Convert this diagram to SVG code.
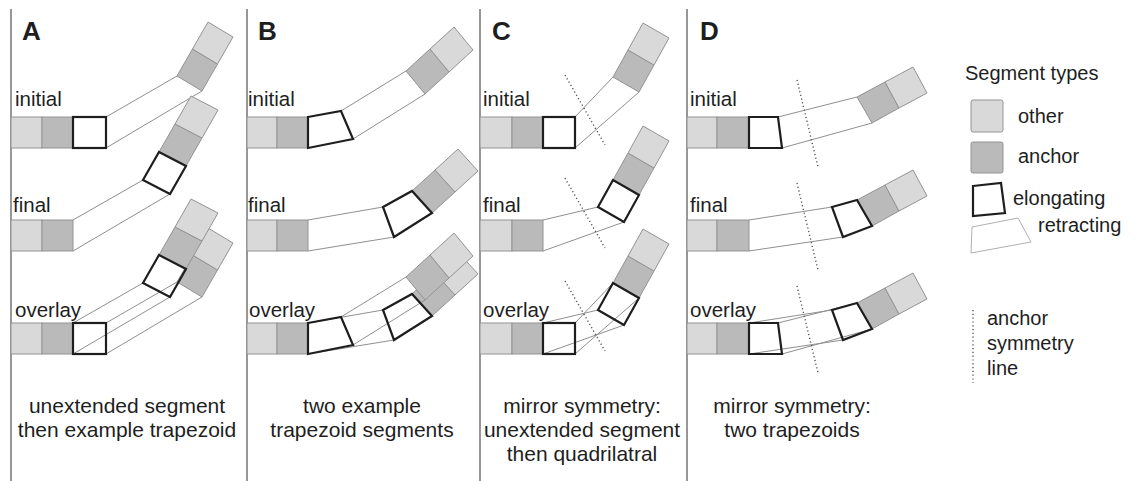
<svg xmlns="http://www.w3.org/2000/svg" width="1138" height="481" viewBox="0 0 1138 481">
  <style>
    text { font-family: "Liberation Sans", Arial, sans-serif; fill: #1e1e1e; }
    .ttl { font-size: 26px; font-weight: bold; }
    .row { font-size: 20.5px; }
    .cap { font-size: 21px; text-anchor: middle; }
    .leg { font-size: 20px; }
    .oth { fill: #d9d9d9; stroke: #939393; stroke-width: 1; }
    .anc { fill: #bababa; stroke: #939393; stroke-width: 1; }
    .elo { fill: none; stroke: #1e1e1e; stroke-width: 2.2; stroke-linejoin: miter; }
    .ret { fill: none; stroke: #8f8f8f; stroke-width: 1; }
    .sym { fill: none; stroke: #555; stroke-width: 1.4; stroke-dasharray: 1.2 2.6; }
    .div { stroke: #7d7d7d; stroke-width: 1.6; }
  </style>

  <!-- panel dividers -->
  <g id="dividers">
    <line class="div" x1="11" y1="9" x2="11" y2="481"/>
    <line class="div" x1="247" y1="9" x2="247" y2="481"/>
    <line class="div" x1="480" y1="9" x2="480" y2="481"/>
    <line class="div" x1="687" y1="9" x2="687" y2="481"/>
  </g>

  <!-- Panel A: unextended segment then trapezoid -->
  <g id="panelA">
    <text class="ttl" x="22" y="40">A</text>
    <text class="row" x="15" y="106">initial</text>
    <text class="row" x="13" y="212">final</text>
    <text class="row" x="15" y="317">overlay</text>
    <g id="A-initial">
      <rect class="oth" x="11" y="117" width="31" height="31"/>
      <rect class="anc" x="42" y="117" width="31" height="31"/>
      <polygon class="anc" points="177,76 202,91 217.5,64 192.5,49"/>
      <polygon class="oth" points="192.5,49 217.5,64 233,37 208,22"/>
      <line class="ret" x1="106" y1="117" x2="177" y2="76"/>
      <line class="ret" x1="106" y1="148" x2="202" y2="91"/>
      <rect class="elo" x="73" y="117" width="33" height="31"/>
    </g>
    <g id="A-final">
      <rect class="oth" x="11" y="220" width="31" height="31"/>
      <rect class="anc" x="42" y="220" width="31" height="31"/>
      <polygon class="anc" points="159,152 186,166 202,138 175,124"/>
      <polygon class="oth" points="175,124 202,138 218,110 191,96"/>
      <line class="ret" x1="73" y1="220" x2="143" y2="180"/>
      <line class="ret" x1="73" y1="251" x2="170" y2="194"/>
      <polygon class="elo" points="143,180 170,194 186,166 159,152"/>
    </g>
    <g id="A-overlay">
      <rect class="oth" x="11" y="323" width="31" height="31"/>
      <rect class="anc" x="42" y="323" width="31" height="31"/>
      <polygon class="anc" points="177,282 202,297 217.5,270 192.5,255"/>
      <polygon class="oth" points="192.5,255 217.5,270 233,243 208,228"/>
      <polygon class="anc" points="159,255 186,269 202,241 175,227"/>
      <polygon class="oth" points="175,227 202,241 218,213 191,199"/>
      <line class="ret" x1="106" y1="323" x2="177" y2="282"/>
      <line class="ret" x1="106" y1="354" x2="202" y2="297"/>
      <line class="ret" x1="73" y1="323" x2="143" y2="283"/>
      <line class="ret" x1="73" y1="354" x2="170" y2="297"/>
      <rect class="elo" x="73" y="323" width="33" height="31"/>
      <polygon class="elo" points="143,283 170,297 186,269 159,255"/>
    </g>
    <text class="cap" x="127" y="413">unextended segment</text>
    <text class="cap" x="127" y="437">then example trapezoid</text>
  </g>

  <!-- Panel B: two trapezoid segments -->
  <g id="panelB">
    <text class="ttl" x="258" y="40">B</text>
    <text class="row" x="248" y="106">initial</text>
    <text class="row" x="248" y="212">final</text>
    <text class="row" x="249" y="317">overlay</text>
    <g id="B-initial">
      <rect class="oth" x="247" y="117" width="30" height="31"/>
      <rect class="anc" x="277" y="117" width="31" height="31"/>
      <polygon class="anc" points="406,71 425,94 449,72 430,49"/>
      <polygon class="oth" points="430,49 449,72 473,50 454,27"/>
      <line class="ret" x1="341" y1="111" x2="406" y2="71"/>
      <line class="ret" x1="353" y1="139" x2="425" y2="94"/>
      <polygon class="elo" points="308,117 341,111 353,139 308,148"/>
    </g>
    <g id="B-final">
      <rect class="oth" x="247" y="220" width="30" height="31"/>
      <rect class="anc" x="277" y="220" width="31" height="31"/>
      <polygon class="anc" points="412,191 432,213 455,192 435,170"/>
      <polygon class="oth" points="435,170 455,192 478,171 458,149"/>
      <line class="ret" x1="308" y1="220" x2="383" y2="207"/>
      <line class="ret" x1="308" y1="251" x2="394" y2="237"/>
      <polygon class="elo" points="383,207 412,191 432,213 394,237"/>
    </g>
    <g id="B-overlay">
      <rect class="oth" x="247" y="323" width="30" height="31"/>
      <rect class="anc" x="277" y="323" width="31" height="31"/>
      <polygon class="anc" points="412,294 432,316 455,295 435,273"/>
      <polygon class="oth" points="435,273 455,295 478,274 458,252"/>
      <polygon class="anc" points="406,277 425,300 449,278 430,255"/>
      <polygon class="oth" points="430,255 449,278 473,256 454,233"/>
      <line class="ret" x1="341" y1="317" x2="406" y2="277"/>
      <line class="ret" x1="353" y1="345" x2="425" y2="300"/>
      <line class="ret" x1="308" y1="323" x2="383" y2="310"/>
      <line class="ret" x1="308" y1="354" x2="394" y2="340"/>
      <polygon class="elo" points="308,323 341,317 353,345 308,354"/>
      <polygon class="elo" points="383,310 412,294 432,316 394,340"/>
    </g>
    <text class="cap" x="362" y="413">two example</text>
    <text class="cap" x="362" y="437">trapezoid segments</text>
  </g>

  <!-- Panel C: mirror symmetry, square then quadrilateral -->
  <g id="panelC">
    <text class="ttl" x="492" y="40">C</text>
    <text class="row" x="483" y="106">initial</text>
    <text class="row" x="483" y="212">final</text>
    <text class="row" x="483" y="317">overlay</text>
    <g id="C-initial">
      <rect class="oth" x="480" y="117" width="32" height="31"/>
      <rect class="anc" x="512" y="117" width="31" height="31"/>
      <polygon class="anc" points="613,77 639,92 654,65 628,50"/>
      <polygon class="oth" points="628,50 654,65 669,38 643,23"/>
      <line class="ret" x1="575" y1="117" x2="613" y2="77"/>
      <line class="ret" x1="575" y1="148" x2="639" y2="92"/>
      <rect class="elo" x="543" y="117" width="32" height="31"/>
      <line class="sym" x1="565" y1="75" x2="605" y2="145"/>
    </g>
    <g id="C-final">
      <rect class="oth" x="480" y="220" width="32" height="31"/>
      <rect class="anc" x="512" y="220" width="31" height="31"/>
      <polygon class="anc" points="613,180 639,195 654,168 628,153"/>
      <polygon class="oth" points="628,153 654,168 669,141 643,126"/>
      <line class="ret" x1="543" y1="220" x2="598" y2="207"/>
      <line class="ret" x1="543" y1="251" x2="624" y2="222"/>
      <polygon class="elo" points="598,207 624,222 639,195 613,180"/>
      <line class="sym" x1="565" y1="178" x2="605" y2="248"/>
    </g>
    <g id="C-overlay">
      <rect class="oth" x="480" y="323" width="32" height="31"/>
      <rect class="anc" x="512" y="323" width="31" height="31"/>
      <polygon class="anc" points="613,283 639,298 654,271 628,256"/>
      <polygon class="oth" points="628,256 654,271 669,244 643,229"/>
      <line class="ret" x1="575" y1="323" x2="613" y2="283"/>
      <line class="ret" x1="575" y1="354" x2="639" y2="298"/>
      <line class="ret" x1="543" y1="323" x2="598" y2="310"/>
      <line class="ret" x1="543" y1="354" x2="624" y2="325"/>
      <rect class="elo" x="543" y="323" width="32" height="31"/>
      <polygon class="elo" points="598,310 624,325 639,298 613,283"/>
      <line class="sym" x1="565" y1="281" x2="605" y2="351"/>
    </g>
    <text class="cap" x="582" y="413">mirror symmetry:</text>
    <text class="cap" x="582" y="437">unextended segment</text>
    <text class="cap" x="582" y="461">then quadrilatral</text>
  </g>

  <!-- Panel D: mirror symmetry, two trapezoids -->
  <g id="panelD">
    <text class="ttl" x="700" y="40">D</text>
    <text class="row" x="690" y="106">initial</text>
    <text class="row" x="690" y="212">final</text>
    <text class="row" x="690" y="317">overlay</text>
    <g id="D-initial">
      <rect class="oth" x="687" y="117" width="30" height="31"/>
      <rect class="anc" x="717" y="117" width="32" height="31"/>
      <polygon class="anc" points="857,97 872,123 899,108 885,82"/>
      <polygon class="oth" points="885,82 899,108 927,93 913,67"/>
      <line class="ret" x1="778" y1="117" x2="857" y2="97"/>
      <line class="ret" x1="782" y1="148" x2="872" y2="123"/>
      <polygon class="elo" points="749,117 778,117 782,148 749,148"/>
      <line class="sym" x1="797" y1="80" x2="818" y2="167"/>
    </g>
    <g id="D-final">
      <rect class="oth" x="687" y="220" width="30" height="31"/>
      <rect class="anc" x="717" y="220" width="32" height="31"/>
      <polygon class="anc" points="857,200 872,226 899,211 885,185"/>
      <polygon class="oth" points="885,185 899,211 927,196 913,170"/>
      <line class="ret" x1="749" y1="220" x2="832" y2="207"/>
      <line class="ret" x1="749" y1="251" x2="843" y2="237"/>
      <polygon class="elo" points="832,207 857,200 872,226 843,237"/>
      <line class="sym" x1="797" y1="183" x2="818" y2="270"/>
    </g>
    <g id="D-overlay">
      <rect class="oth" x="687" y="323" width="30" height="31"/>
      <rect class="anc" x="717" y="323" width="32" height="31"/>
      <polygon class="anc" points="857,303 872,329 899,314 885,288"/>
      <polygon class="oth" points="885,288 899,314 927,299 913,273"/>
      <line class="ret" x1="778" y1="323" x2="857" y2="303"/>
      <line class="ret" x1="782" y1="354" x2="872" y2="329"/>
      <line class="ret" x1="749" y1="323" x2="832" y2="310"/>
      <line class="ret" x1="749" y1="354" x2="843" y2="340"/>
      <polygon class="elo" points="749,323 778,323 782,354 749,354"/>
      <polygon class="elo" points="832,310 857,303 872,329 843,340"/>
      <line class="sym" x1="797" y1="286" x2="818" y2="373"/>
    </g>
    <text class="cap" x="792" y="413">mirror symmetry:</text>
    <text class="cap" x="792" y="437">two trapezoids</text>
  </g>

  <!-- Legend -->
  <g id="legend">
    <text class="leg" x="965" y="80">Segment types</text>
    <rect class="oth" x="971" y="100" width="32" height="32" rx="2"/>
    <text class="leg" x="1018" y="123">other</text>
    <rect class="anc" x="971" y="142" width="32" height="31" rx="2"/>
    <text class="leg" x="1018" y="163">anchor</text>
    <polygon class="elo" points="973,186 1001,183 1005,213 973,216"/>
    <text class="leg" x="1013" y="205">elongating</text>
    <polygon fill="none" stroke="#b0b0b0" stroke-width="1" points="972,227 1018,218 1031,242 971,253"/>
    <text class="leg" x="1038" y="232">retracting</text>
    <line class="sym" x1="973" y1="310" x2="973" y2="383"/>
    <text class="leg" x="987" y="325">anchor</text>
    <text class="leg" x="987" y="350">symmetry</text>
    <text class="leg" x="987" y="375">line</text>
  </g>
</svg>
